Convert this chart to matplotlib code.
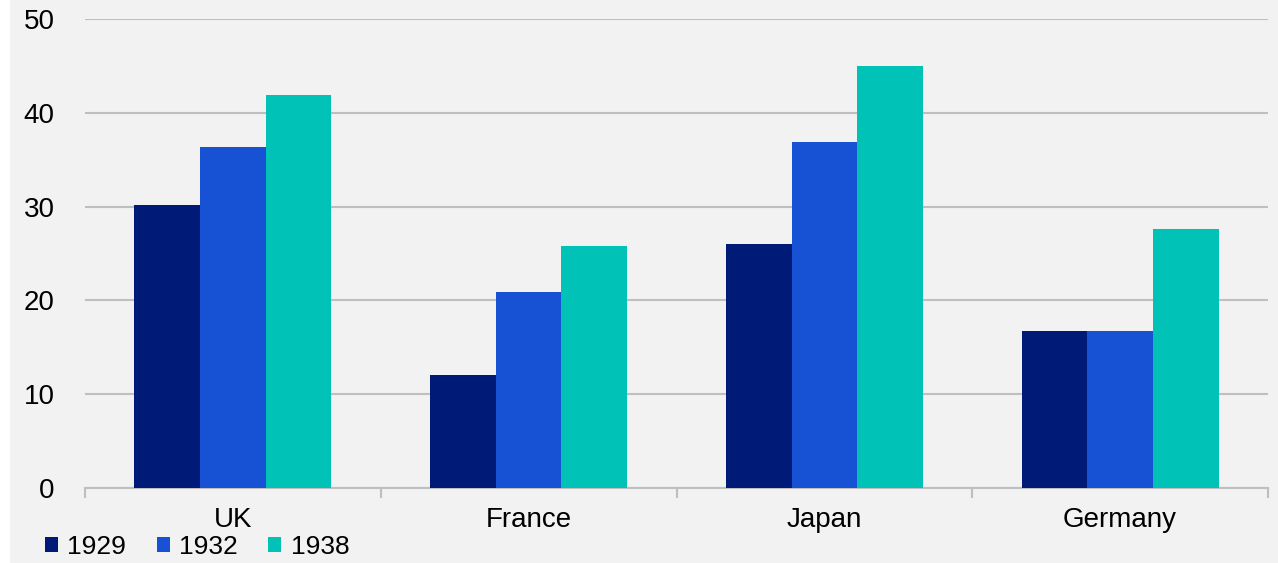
import matplotlib.pyplot as plt
import numpy as np
from matplotlib.patches import Rectangle

# data
countries = ['UK', 'France', 'Japan', 'Germany']
years = ['1929', '1932', '1938']
v1929 = [30.2, 12.0, 26.0, 16.7]
v1932 = [36.4, 20.9, 36.9, 16.7]
v1938 = [41.9, 25.8, 45.0, 27.6]
colors = ['#001a77', '#1652d3', '#00c2b6']

plt.rcParams['font.family'] = ['Liberation Sans', 'DejaVu Sans']

bg = '#f2f2f2'
fig = plt.figure(figsize=(12.78, 5.63), dpi=100, facecolor=bg)
# thin white strip on the left edge like the source image
fig.patches.append(Rectangle((0, 0), 10 / 1278, 1, transform=fig.transFigure,
                             facecolor='white', edgecolor='none', zorder=0))

ax = fig.add_axes([85 / 1278, 75 / 563, 1183 / 1278, 469 / 563])
ax.set_facecolor(bg)

x = np.arange(len(countries))
w = 1 / 4.5
for i, (vals, yr) in enumerate(zip([v1929, v1932, v1938], years)):
    ax.bar(x + (i - 1) * w, vals, width=w, color=colors[i], label=yr, zorder=3)

ax.set_xlim(-0.5, len(countries) - 0.5)
ax.set_ylim(0, 50)
ax.set_yticks(range(0, 51, 10))
ax.yaxis.grid(True, color='#bfbfbf', linewidth=1.5, zorder=0)
ax.tick_params(axis='y', length=0, labelsize=20, pad=22)

# category labels and boundary tick marks
ax.set_xticks(x)
ax.set_xticklabels(countries, fontsize=20)
ax.tick_params(axis='x', length=0, pad=14)
ax.set_xticks(np.arange(-0.5, len(countries), 1.0), minor=True)
ax.tick_params(axis='x', which='minor', length=7, width=1.5, color='#bfbfbf')

for s in ['top', 'right', 'left']:
    ax.spines[s].set_visible(False)
ax.spines['bottom'].set_color('#bfbfbf')
ax.spines['bottom'].set_linewidth(1.5)

ax.legend(loc='center left', bbox_to_anchor=(45 / 1278, 16 / 563),
          bbox_transform=fig.transFigure, ncol=3, frameon=False,
          fontsize=19, handlelength=0.5, handleheight=0.5,
          handletextpad=0.35, columnspacing=1.15, borderpad=0,
          borderaxespad=0)

fig.savefig('out.png', dpi=100, facecolor=bg)
